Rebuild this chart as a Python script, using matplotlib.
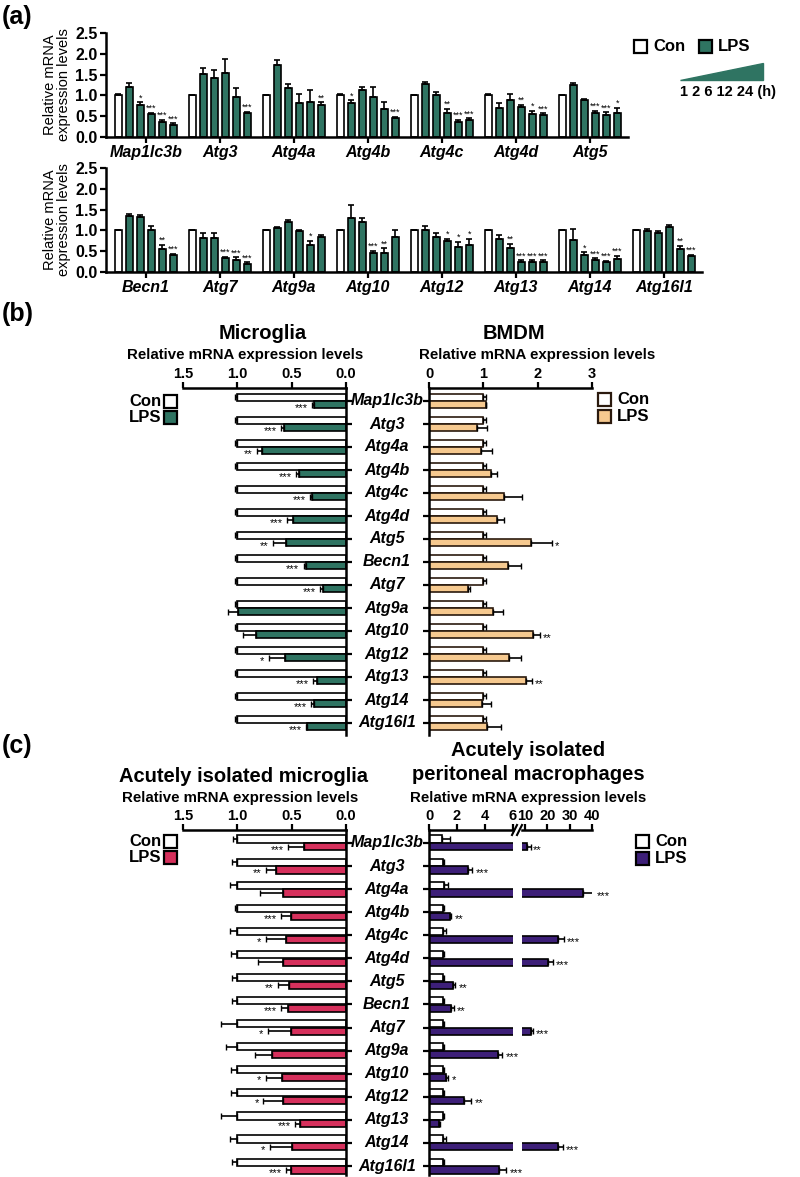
import numpy as np
import matplotlib.pyplot as plt
from matplotlib.patches import Rectangle, Polygon
from matplotlib.lines import Line2D
from matplotlib.transforms import blended_transform_factory

plt.rcParams['font.family'] = ['Liberation Sans', 'DejaVu Sans']
plt.rcParams['font.weight'] = 'bold'

GREEN = '#2f7462'
TAN = '#f6c98f'
RED = '#d6305c'
PURPLE = '#3d1f78'

# ---------------- data ----------------
# (a) time course: Con, LPS 1h, 2h, 6h, 12h, 24h
genes_a1 = ['Map1lc3b', 'Atg3', 'Atg4a', 'Atg4b', 'Atg4c', 'Atg4d', 'Atg5']
tc_mean_a1 = [[1.0, 1.20, 0.78, 0.55, 0.35, 0.30],
              [1.0, 1.52, 1.42, 1.55, 0.95, 0.58],
              [1.0, 1.73, 1.18, 0.82, 0.85, 0.78],
              [1.0, 0.82, 1.12, 0.95, 0.68, 0.45],
              [1.0, 1.27, 1.02, 0.58, 0.35, 0.40],
              [1.0, 0.70, 0.88, 0.72, 0.55, 0.52],
              [1.0, 1.25, 0.88, 0.57, 0.52, 0.58]]
tc_err_a1 = [[0.03, 0.10, 0.05, 0.03, 0.07, 0.03],
             [0.02, 0.15, 0.20, 0.33, 0.22, 0.03],
             [0.02, 0.12, 0.10, 0.22, 0.27, 0.05],
             [0.03, 0.06, 0.08, 0.25, 0.15, 0.03],
             [0.02, 0.05, 0.07, 0.10, 0.07, 0.05],
             [0.03, 0.12, 0.15, 0.05, 0.07, 0.05],
             [0.02, 0.05, 0.03, 0.05, 0.07, 0.12]]
tc_sig_a1 = [['', '', '*', '***', '***', '***'],
             ['', '', '', '', '', '***'],
             ['', '', '', '', '', '**'],
             ['', '*', '', '', '', '***'],
             ['', '', '', '**', '***', '***'],
             ['', '', '', '**', '*', '***'],
             ['', '', '', '***', '***', '*']]

genes_a2 = ['Becn1', 'Atg7', 'Atg9a', 'Atg10', 'Atg12', 'Atg13', 'Atg14', 'Atg16l1']
tc_mean_a2 = [[1.0, 1.35, 1.33, 1.00, 0.55, 0.40],
              [1.0, 0.82, 0.82, 0.33, 0.30, 0.20],
              [1.0, 1.05, 1.20, 0.98, 0.65, 0.85],
              [1.0, 1.30, 1.20, 0.45, 0.45, 0.85],
              [1.0, 1.02, 0.85, 0.75, 0.60, 0.65],
              [1.0, 0.80, 0.57, 0.25, 0.25, 0.25],
              [1.0, 0.78, 0.42, 0.30, 0.23, 0.32],
              [1.0, 0.98, 0.93, 1.08, 0.55, 0.38]]
tc_err_a2 = [[0.02, 0.05, 0.04, 0.10, 0.10, 0.03],
             [0.02, 0.12, 0.12, 0.04, 0.05, 0.03],
             [0.02, 0.04, 0.05, 0.02, 0.10, 0.05],
             [0.02, 0.30, 0.10, 0.05, 0.12, 0.15],
             [0.02, 0.08, 0.08, 0.05, 0.12, 0.15],
             [0.02, 0.10, 0.10, 0.03, 0.03, 0.03],
             [0.02, 0.25, 0.05, 0.03, 0.03, 0.07],
             [0.02, 0.05, 0.05, 0.05, 0.07, 0.03]]
tc_sig_a2 = [['', '', '', '', '**', '***'],
             ['', '', '', '***', '***', '***'],
             ['', '', '', '', '*', ''],
             ['', '', '', '***', '**', ''],
             ['', '', '', '*', '*', '*'],
             ['', '', '**', '***', '***', '***'],
             ['', '', '*', '***', '***', '***'],
             ['', '', '', '', '**', '***']]

# (b), (c) gene order
genes_bc = genes_a1 + genes_a2

# (b) Microglia
mg_con = [1.0] * 15
mg_con_err = [0.02] * 15
mg_lps = [0.29, 0.57, 0.77, 0.43, 0.31, 0.49, 0.55, 0.37, 0.21, 0.99, 0.83, 0.56, 0.27, 0.29, 0.36]
mg_lps_err = [0.02, 0.03, 0.05, 0.03, 0.02, 0.05, 0.12, 0.02, 0.03, 0.10, 0.12, 0.15, 0.03, 0.03, 0.01]
mg_sig = ['***', '***', '**', '***', '***', '***', '**', '***', '***', '', '', '*', '***', '***', '***']

# (b) BMDM
bm_con = [1.0] * 15
bm_con_err = [0.04] * 15
bm_lps = [1.05, 0.88, 0.95, 1.15, 1.38, 1.25, 1.88, 1.45, 0.71, 1.18, 1.92, 1.48, 1.78, 0.98, 1.07]
bm_lps_err = [0.0, 0.18, 0.21, 0.10, 0.33, 0.13, 0.38, 0.25, 0.04, 0.19, 0.12, 0.22, 0.11, 0.16, 0.26]
bm_sig = ['', '', '', '', '', '', '*', '', '', '', '**', '', '**', '', '']

# (c) Acutely isolated microglia
am_con = [1.0] * 15
am_con_err = [0.04, 0.05, 0.07, 0.02, 0.07, 0.06, 0.05, 0.05, 0.15, 0.10, 0.06, 0.06, 0.15, 0.07, 0.05]
am_lps = [0.39, 0.64, 0.58, 0.51, 0.55, 0.58, 0.52, 0.53, 0.51, 0.68, 0.59, 0.58, 0.42, 0.50, 0.51]
am_lps_err = [0.14, 0.10, 0.21, 0.09, 0.19, 0.23, 0.11, 0.07, 0.21, 0.16, 0.15, 0.18, 0.05, 0.20, 0.04]
am_sig = ['***', '**', '', '***', '*', '', '**', '***', '*', '', '*', '*', '***', '*', '***']

# (c) Acutely isolated peritoneal macrophages
pm_con = [0.93, 1.0, 1.1, 1.0, 1.0, 1.0, 1.0, 1.0, 1.0, 1.0, 1.0, 1.0, 1.0, 1.0, 1.0]
pm_con_err = [0.57, 0.1, 0.25, 0.05, 0.2, 0.1, 0.05, 0.05, 0.1, 0.05, 0.05, 0.1, 0.05, 0.2, 0.1]
pm_lps = [10.7, 2.8, 36.0, 1.5, 24.8, 20.3, 1.7, 1.6, 12.7, 4.9, 1.2, 2.5, 0.7, 25.0, 5.0]
pm_lps_err = [1.8, 0.3, 5.0, 0.1, 2.7, 2.2, 0.15, 0.15, 0.8, 0.3, 0.15, 0.5, 0.05, 2.0, 0.5]
pm_sig = ['**', '***', '***', '**', '***', '***', '**', '**', '***', '***', '*', '**', '', '***', '***']

# ---------------- layout helpers (pixels) ----------------
W, H = 800, 1177
fig = plt.figure(figsize=(W / 100, H / 100), dpi=100)


def box(x0, y0, x1, y1):
    return [x0 / W, 1 - y1 / H, (x1 - x0) / W, (y1 - y0) / H]


def fx(x):
    return x / W


def fy(y):
    return 1 - y / H


def legend_box(x, y, color, label, text_right=True, edge='black', size=13):
    fig.add_artist(Rectangle((fx(x), fy(y + size)), size / W, size / H, facecolor=color,
                             edgecolor=edge, lw=1.6, transform=fig.transFigure))
    if text_right:
        fig.text(fx(x + size + 6), fy(y + size / 2), label, ha='left', va='center', fontsize=12)
    else:
        fig.text(fx(x - 3), fy(y + size / 2), label, ha='right', va='center', fontsize=12)


# ---------------- (a) ----------------
step = 11 / 74
bw = 7.5 / 74


def time_course(rect, genes, means, errs, sigs):
    ax = fig.add_axes(rect)
    n = len(genes)
    idx = np.arange(n)
    for j in range(6):
        xs = idx + (j - 2.5) * step
        m = np.array([row[j] for row in means])
        e = np.array([row[j] for row in errs])
        ax.bar(xs, m, width=bw, color='white' if j == 0 else GREEN,
               edgecolor='black', lw=1.2, zorder=2)
        ax.errorbar(xs, m, yerr=[np.zeros(n), e], fmt='none', ecolor='black',
                    elinewidth=1.2, capsize=2, capthick=1.2, zorder=3)
        for i in range(n):
            if sigs[i][j]:
                ax.text(xs[i], m[i] + e[i] + 0.0, sigs[i][j], ha='center', va='bottom',
                        fontsize=6.5, fontweight='normal')
    ax.set_xlim(-0.54, n - 1 + 0.51)
    ax.set_ylim(0, 2.5)
    ax.set_yticks(np.arange(0, 2.51, 0.5))
    ax.set_yticklabels(['%.1f' % v for v in np.arange(0, 2.51, 0.5)], fontsize=11.5)
    ax.set_xticks(idx)
    ax.set_xticklabels(genes, fontsize=11.5, fontstyle='italic')
    for s in ['top', 'right']:
        ax.spines[s].set_visible(False)
    for s in ['left', 'bottom']:
        ax.spines[s].set_linewidth(1.8)
    ax.tick_params(width=1.6, length=4, pad=2)
    ax.set_ylabel('Relative mRNA\nexpression levels', fontsize=10.5, labelpad=3, linespacing=1.0)
    return ax


time_course(box(106, 33, 106 + 74 * 7.05, 137), genes_a1, tc_mean_a1, tc_err_a1, tc_sig_a1)
time_course(box(106, 168, 106 + 74 * 8.05, 272), genes_a2, tc_mean_a2, tc_err_a2, tc_sig_a2)

fig.text(fx(2), fy(17), '(a)', fontsize=18, ha='left', va='center')
legend_box(634, 40, 'white', 'Con')
legend_box(699, 40, GREEN, 'LPS')
fig.add_artist(Polygon([(fx(680), fy(80)), (fx(763), fy(80)), (fx(763), fy(63))], closed=True,
                       facecolor=GREEN, edgecolor=GREEN, transform=fig.transFigure))
fig.text(fx(728), fy(92), '1 2 6 12 24 (h)', fontsize=10.5, ha='center', va='center')

# ---------------- (b), (c) helpers ----------------
rows = np.arange(15)
off = 0.17
bh = 0.31
STAR = 8


def left_panel(rect, ylim, con, con_err, lps, lps_err, sig, color):
    ax = fig.add_axes(rect)
    ax.barh(rows - off, con, height=bh, color='white', edgecolor='black', lw=1.2, zorder=2)
    ax.barh(rows + off, lps, height=bh, color=color, edgecolor='black', lw=1.2, zorder=2)
    ax.errorbar(con, rows - off, xerr=[np.zeros(15), con_err], fmt='none', ecolor='black',
                elinewidth=1.2, capsize=2, zorder=3)
    ax.errorbar(lps, rows + off, xerr=[np.zeros(15), lps_err], fmt='none', ecolor='black',
                elinewidth=1.2, capsize=2, zorder=3)
    for i in range(15):
        if sig[i]:
            ax.text(lps[i] + lps_err[i] + 0.04, rows[i] + off + 0.12, sig[i], ha='right',
                    va='center', fontsize=STAR, fontweight='normal')
    ax.set_xlim(1.5, 0)
    ax.set_ylim(*ylim)
    ax.xaxis.tick_top()
    ax.set_xticks([1.5, 1.0, 0.5, 0.0])
    ax.set_xticklabels(['1.5', '1.0', '0.5', '0.0'], fontsize=10.5)
    ax.yaxis.tick_right()
    ax.set_yticks(rows)
    ax.set_yticklabels([])
    for s in ['bottom', 'left']:
        ax.spines[s].set_visible(False)
    for s in ['top', 'right']:
        ax.spines[s].set_linewidth(1.8)
    ax.tick_params(width=1.6, length=4, pad=1)
    return ax


def gene_labels(ax):
    tr = blended_transform_factory(fig.transFigure, ax.transData)
    for i, g in enumerate(genes_bc):
        ax.text(fx(387), rows[i], g, transform=tr, ha='center', va='center',
                fontsize=11.5, fontstyle='italic', clip_on=False)


def style_right(ax):
    ax.xaxis.tick_top()
    ax.set_yticks(rows)
    ax.set_yticklabels([])
    for s in ['bottom', 'right']:
        ax.spines[s].set_visible(False)
    for s in ['top', 'left']:
        ax.spines[s].set_linewidth(1.8)
    ax.tick_params(width=1.6, length=4, pad=1)


# ---------------- (b) ----------------
ylim_b = (14 + 12 / 23, -13 / 23)
axb1 = left_panel(box(183, 388, 346, 735), ylim_b, mg_con, mg_con_err, mg_lps, mg_lps_err, mg_sig, GREEN)
gene_labels(axb1)

axb2 = fig.add_axes(box(429, 388, 592, 735))
axb2.barh(rows - off, bm_con, height=bh, color='white', edgecolor='#2b1a0e', lw=1.2, zorder=2)
axb2.barh(rows + off, bm_lps, height=bh, color=TAN, edgecolor='#2b1a0e', lw=1.2, zorder=2)
axb2.errorbar(bm_con, rows - off, xerr=[np.zeros(15), bm_con_err], fmt='none', ecolor='black',
              elinewidth=1.2, capsize=2, zorder=3)
axb2.errorbar(bm_lps, rows + off, xerr=[np.zeros(15), bm_lps_err], fmt='none', ecolor='black',
              elinewidth=1.2, capsize=2, zorder=3)
for i in range(15):
    if bm_sig[i]:
        axb2.text(bm_lps[i] + bm_lps_err[i] + 0.05, rows[i] + off + 0.12, bm_sig[i], ha='left',
                  va='center', fontsize=STAR, fontweight='normal')
axb2.set_xlim(0, 3)
axb2.set_ylim(*ylim_b)
axb2.set_xticks([0, 1, 2, 3])
axb2.set_xticklabels(['0', '1', '2', '3'], fontsize=10.5)
style_right(axb2)

fig.text(fx(2), fy(314), '(b)', fontsize=18, ha='left', va='center')
fig.text(fx(263), fy(334), 'Microglia', fontsize=14.5, ha='center', va='center')
fig.text(fx(245), fy(355), 'Relative mRNA expression levels', fontsize=10.8, ha='center', va='center')
fig.text(fx(514), fy(334), 'BMDM', fontsize=14.5, ha='center', va='center')
fig.text(fx(537), fy(355), 'Relative mRNA expression levels', fontsize=10.8, ha='center', va='center')
legend_box(164, 395, 'white', 'Con', text_right=False)
legend_box(164, 411, GREEN, 'LPS', text_right=False)
legend_box(598, 393, 'white', 'Con', edge='#2b1a0e')
legend_box(598, 410, TAN, 'LPS', edge='#2b1a0e')

# ---------------- (c) ----------------
ylim_c = (14 + 9 / 23.1, -13 / 23.1)
axc1 = left_panel(box(183, 830, 346, 1175), ylim_c, am_con, am_con_err, am_lps, am_lps_err, am_sig, RED)
gene_labels(axc1)

# broken x axis: 0-6 and 10-40
lo, hi = 6, 8.66
axc2 = fig.add_axes(box(429, 830, 513, 1175))
axc3 = fig.add_axes(box(522, 830, 592, 1175))
for ax in (axc2, axc3):
    ax.barh(rows - off, pm_con, height=bh, color='white', edgecolor='black', lw=1.2, zorder=2)
    ax.barh(rows + off, pm_lps, height=bh, color=PURPLE, edgecolor='black', lw=1.2, zorder=2)
    ax.set_ylim(*ylim_c)
pm_lps_a = np.array(pm_lps)
pm_err_a = np.array(pm_lps_err)
small = pm_lps_a <= lo
axc2.errorbar(pm_con, rows - off, xerr=[np.zeros(15), pm_con_err], fmt='none', ecolor='black',
              elinewidth=1.2, capsize=2, zorder=3)
axc2.errorbar(pm_lps_a[small], rows[small] + off, xerr=[np.zeros(small.sum()), pm_err_a[small]],
              fmt='none', ecolor='black', elinewidth=1.2, capsize=2, zorder=3)
axc3.errorbar(pm_lps_a[~small], rows[~small] + off, xerr=[np.zeros((~small).sum()), pm_err_a[~small]],
              fmt='none', ecolor='black', elinewidth=1.2, capsize=2, zorder=3)
for i in range(15):
    if pm_sig[i]:
        if small[i]:
            axc2.text(pm_lps[i] + pm_lps_err[i] + 0.25, rows[i] + off + 0.12, pm_sig[i], ha='left',
                      va='center', fontsize=STAR, fontweight='normal', clip_on=False)
        else:
            axc3.text(pm_lps[i] + pm_lps_err[i] + 1.2, rows[i] + off + 0.12, pm_sig[i], ha='left',
                      va='center', fontsize=STAR, fontweight='normal', clip_on=False)
axc2.set_xlim(0, lo)
axc2.set_xticks([0, 2, 4, 6])
axc2.set_xticklabels(['0', '2', '4', '6'], fontsize=10.5)
style_right(axc2)
axc2.spines['right'].set_visible(False)
axc3.set_xlim(hi, 40)
axc3.set_xticks([10, 20, 30, 40])
axc3.set_xticklabels(['10', '20', '30', '40'], fontsize=10.5)
axc3.xaxis.tick_top()
axc3.set_yticks([])
for s in ['bottom', 'right', 'left']:
    axc3.spines[s].set_visible(False)
axc3.spines['top'].set_linewidth(1.8)
axc3.tick_params(width=1.6, length=4, pad=1)
for x0 in (512, 517):
    fig.add_artist(Line2D([fx(x0), fx(x0 + 5)], [fy(835), fy(825)], color='black', lw=1.5,
                          transform=fig.transFigure))

fig.text(fx(2), fy(746), '(c)', fontsize=18, ha='left', va='center')
fig.text(fx(243), fy(777), 'Acutely isolated microglia', fontsize=14.5, ha='center', va='center')
fig.text(fx(240), fy(798), 'Relative mRNA expression levels', fontsize=10.8, ha='center', va='center')
fig.text(fx(528), fy(750), 'Acutely isolated', fontsize=14.5, ha='center', va='center')
fig.text(fx(528), fy(774), 'peritoneal macrophages', fontsize=14.5, ha='center', va='center')
fig.text(fx(528), fy(798), 'Relative mRNA expression levels', fontsize=10.8, ha='center', va='center')
legend_box(164, 835, 'white', 'Con', text_right=False)
legend_box(164, 851, RED, 'LPS', text_right=False)
legend_box(636, 835, 'white', 'Con')
legend_box(636, 852, PURPLE, 'LPS')

fig.savefig('out.png', dpi=100)
